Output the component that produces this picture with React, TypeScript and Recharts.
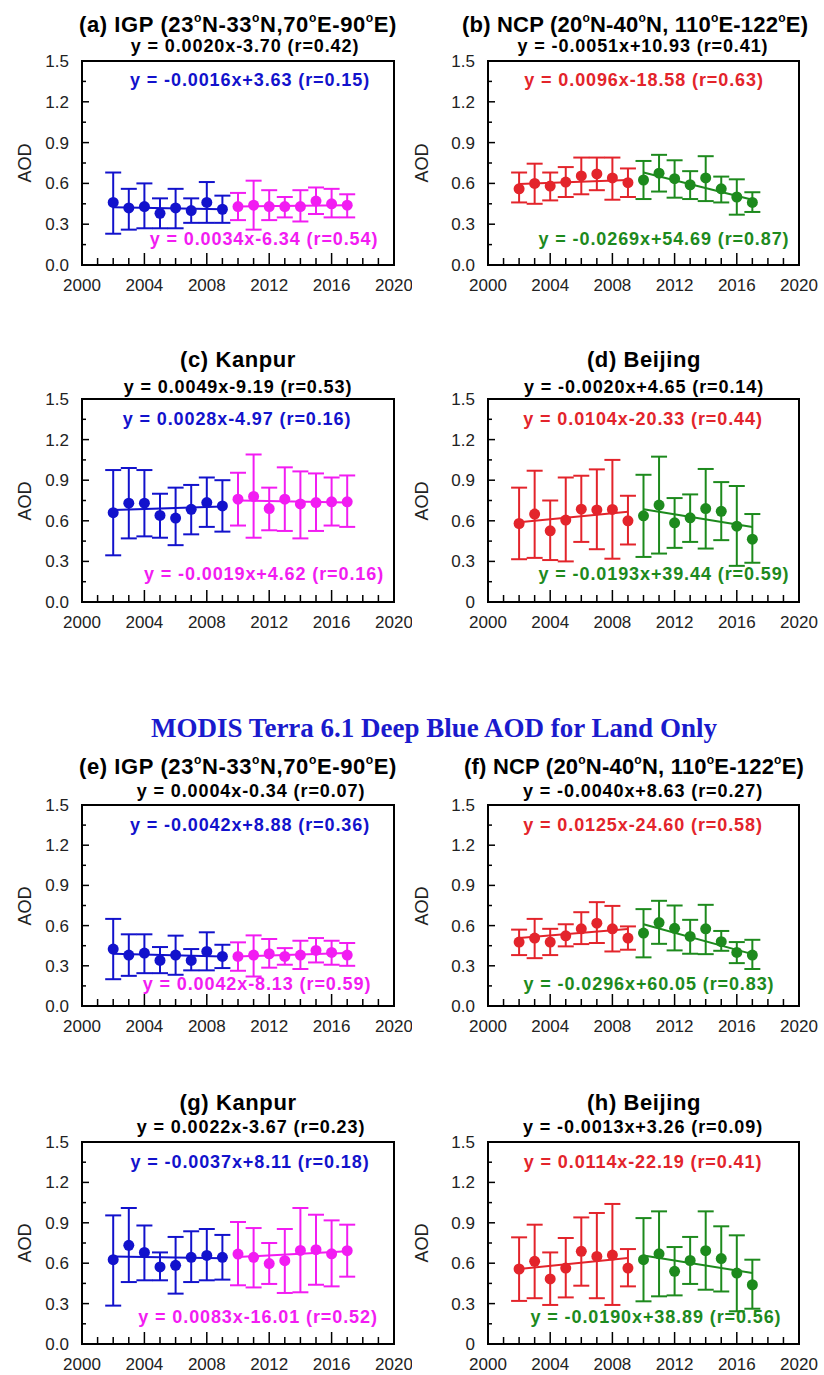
import React from 'react';
import { ComposedChart, Line, XAxis, YAxis, ErrorBar, ReferenceArea } from 'recharts';

const YEARS = [2002, 2003, 2004, 2005, 2006, 2007, 2008, 2009, 2010, 2011, 2012, 2013, 2014, 2015, 2016, 2017];
const X_TICKS = [2000, 2001, 2002, 2003, 2004, 2005, 2006, 2007, 2008, 2009, 2010, 2011, 2012, 2013, 2014, 2015, 2016, 2017, 2018, 2019, 2020];
const Y_TICKS = [0, 0.15, 0.3, 0.45, 0.6, 0.75, 0.9, 1.05, 1.2, 1.35, 1.5];

// first 8 values = 2002-2009, last 8 = 2010-2017
const aMean = [0.46, 0.42, 0.43, 0.38, 0.42, 0.4, 0.46, 0.41, 0.43, 0.44, 0.43, 0.43, 0.43, 0.47, 0.45, 0.44];
const aTop = [0.68, 0.56, 0.6, 0.49, 0.56, 0.49, 0.61, 0.51, 0.53, 0.62, 0.55, 0.5, 0.55, 0.57, 0.56, 0.52];
const aBot = [0.23, 0.26, 0.27, 0.27, 0.27, 0.31, 0.31, 0.31, 0.33, 0.26, 0.33, 0.35, 0.32, 0.375, 0.35, 0.35];
const aTrend = [0.425, 0.41, 0.43, 0.44];

const bMean = [0.56, 0.6, 0.58, 0.61, 0.655, 0.67, 0.64, 0.605, 0.625, 0.675, 0.635, 0.59, 0.64, 0.56, 0.5, 0.46];
const bTop = [0.68, 0.745, 0.68, 0.72, 0.79, 0.79, 0.79, 0.71, 0.765, 0.81, 0.77, 0.69, 0.8, 0.65, 0.63, 0.535];
const bBot = [0.46, 0.45, 0.475, 0.5, 0.52, 0.55, 0.48, 0.5, 0.485, 0.54, 0.495, 0.485, 0.47, 0.46, 0.37, 0.39];
const bTrend = [0.595, 0.625, 0.68, 0.48];

const cMean = [0.66, 0.73, 0.73, 0.64, 0.62, 0.685, 0.735, 0.71, 0.76, 0.78, 0.69, 0.76, 0.725, 0.735, 0.74, 0.74];
const cTop = [0.975, 0.99, 0.975, 0.8, 0.845, 0.865, 0.92, 0.9, 0.955, 1.09, 0.845, 0.995, 0.965, 0.95, 0.92, 0.935];
const cBot = [0.345, 0.47, 0.485, 0.475, 0.42, 0.5, 0.555, 0.52, 0.565, 0.475, 0.53, 0.525, 0.47, 0.525, 0.565, 0.555];
const cTrend = [0.68, 0.705, 0.75, 0.735];

const dMean = [0.58, 0.65, 0.526, 0.605, 0.686, 0.68, 0.684, 0.6, 0.637, 0.716, 0.585, 0.622, 0.69, 0.67, 0.56, 0.464];
const dTop = [0.845, 0.97, 0.75, 0.92, 0.933, 0.98, 1.05, 0.785, 0.94, 1.074, 0.768, 0.795, 0.983, 0.886, 0.857, 0.65];
const dBot = [0.316, 0.326, 0.31, 0.3, 0.444, 0.39, 0.32, 0.425, 0.333, 0.358, 0.4, 0.444, 0.395, 0.457, 0.267, 0.29];
const dTrend = [0.59, 0.667, 0.686, 0.555];

const eMean = [0.425, 0.38, 0.395, 0.34, 0.38, 0.34, 0.407, 0.37, 0.37, 0.38, 0.39, 0.37, 0.38, 0.415, 0.4, 0.38];
const eTop = [0.65, 0.535, 0.535, 0.44, 0.525, 0.425, 0.55, 0.457, 0.475, 0.527, 0.5, 0.432, 0.487, 0.507, 0.487, 0.47];
const eBot = [0.2, 0.225, 0.245, 0.245, 0.233, 0.266, 0.266, 0.283, 0.263, 0.22, 0.286, 0.308, 0.276, 0.325, 0.308, 0.3];
const eTrend = [0.39, 0.37, 0.37, 0.395];

const fMean = [0.477, 0.507, 0.477, 0.524, 0.576, 0.618, 0.576, 0.507, 0.544, 0.623, 0.58, 0.519, 0.576, 0.48, 0.4, 0.38];
const fTop = [0.57, 0.65, 0.576, 0.61, 0.7, 0.775, 0.747, 0.594, 0.723, 0.785, 0.75, 0.643, 0.755, 0.56, 0.477, 0.494];
const fBot = [0.38, 0.357, 0.38, 0.445, 0.462, 0.47, 0.407, 0.42, 0.363, 0.464, 0.415, 0.39, 0.387, 0.412, 0.32, 0.276];
const fTrend = [0.507, 0.574, 0.61, 0.387];

const gMean = [0.626, 0.733, 0.68, 0.572, 0.584, 0.644, 0.658, 0.644, 0.668, 0.644, 0.597, 0.619, 0.695, 0.7, 0.67, 0.693];
const gTop = [0.955, 1.01, 0.88, 0.68, 0.795, 0.837, 0.854, 0.81, 0.906, 0.861, 0.75, 0.854, 1.01, 0.96, 0.918, 0.886];
const gBot = [0.285, 0.46, 0.473, 0.473, 0.374, 0.46, 0.473, 0.478, 0.436, 0.42, 0.446, 0.379, 0.384, 0.44, 0.428, 0.5];
const gTrend = [0.65, 0.636, 0.646, 0.688];

const hMean = [0.557, 0.614, 0.483, 0.564, 0.688, 0.65, 0.66, 0.564, 0.626, 0.67, 0.54, 0.62, 0.693, 0.634, 0.527, 0.44];
const hTop = [0.792, 0.886, 0.68, 0.787, 0.94, 0.973, 1.04, 0.705, 0.935, 0.985, 0.72, 0.795, 0.985, 0.874, 0.807, 0.626];
const hBot = [0.32, 0.34, 0.29, 0.346, 0.433, 0.34, 0.29, 0.428, 0.317, 0.354, 0.361, 0.446, 0.403, 0.39, 0.243, 0.262];
const hTrend = [0.557, 0.639, 0.658, 0.527];

const BLUE = '#1212cc';
const MAGENTA = '#f21cf2';
const RED = '#e3242b';
const GREEN = '#1d8a1d';
const SANS = '"Liberation Sans", Arial, sans-serif';

// layout of the 8 boxes
const COLS = [
  { chartLeft: 0, boxLeft: 82, boxRight: 394 },
  { chartLeft: 412, boxLeft: 488, boxRight: 799 },
];
const ROWS = [
  { top: 61, bottom: 265 },
  { top: 399, bottom: 602 },
  { top: 805, bottom: 1006 },
  { top: 1142, bottom: 1344 },
];

const panels = [
  { col: 0, row: 0, mean: aMean, top: aTop, bot: aBot, trend: aTrend, c1: BLUE, c2: MAGENTA, zero: '0.0',
    title: '(a) IGP (23°N-33°N,70°E-90°E)', titleX: 238, titleLeft: false,
    eq: 'y = 0.0020x-3.70 (r=0.42)', eqX: 245, eq1: 'y = -0.0016x+3.63 (r=0.15)', eq1X: 250, eq2: 'y = 0.0034x-6.34 (r=0.54)', eq2X: 264 },
  { col: 1, row: 0, mean: bMean, top: bTop, bot: bBot, trend: bTrend, c1: RED, c2: GREEN, zero: '0.0',
    title: '(b) NCP (20°N-40°N, 110°E-122°E)', titleX: 462, titleLeft: true,
    eq: 'y = -0.0051x+10.93 (r=0.41)', eqX: 643, eq1: 'y = 0.0096x-18.58 (r=0.63)', eq1X: 644, eq2: 'y = -0.0269x+54.69 (r=0.87)', eq2X: 664 },
  { col: 0, row: 1, mean: cMean, top: cTop, bot: cBot, trend: cTrend, c1: BLUE, c2: MAGENTA, zero: '0.0',
    title: '(c) Kanpur', titleX: 238, titleLeft: false,
    eq: 'y = 0.0049x-9.19 (r=0.53)', eqX: 238, eq1: 'y = 0.0028x-4.97 (r=0.16)', eq1X: 237, eq2: 'y = -0.0019x+4.62 (r=0.16)', eq2X: 264 },
  { col: 1, row: 1, mean: dMean, top: dTop, bot: dBot, trend: dTrend, c1: RED, c2: GREEN, zero: '0',
    title: '(d) Beijing', titleX: 644, titleLeft: false,
    eq: 'y = -0.0020x+4.65 (r=0.14)', eqX: 644, eq1: 'y = 0.0104x-20.33 (r=0.44)', eq1X: 643, eq2: 'y = -0.0193x+39.44 (r=0.59)', eq2X: 664 },
  { col: 0, row: 2, mean: eMean, top: eTop, bot: eBot, trend: eTrend, c1: BLUE, c2: MAGENTA, zero: '0.0',
    title: '(e) IGP (23°N-33°N,70°E-90°E)', titleX: 238, titleLeft: false,
    eq: 'y = 0.0004x-0.34 (r=0.07)', eqX: 251, eq1: 'y = -0.0042x+8.88 (r=0.36)', eq1X: 250, eq2: 'y = 0.0042x-8.13 (r=0.59)', eq2X: 257 },
  { col: 1, row: 2, mean: fMean, top: fTop, bot: fBot, trend: fTrend, c1: RED, c2: GREEN, zero: '0.0',
    title: '(f) NCP (20°N-40°N, 110°E-122°E)', titleX: 464, titleLeft: true,
    eq: 'y = -0.0040x+8.63 (r=0.27)', eqX: 643, eq1: 'y = 0.0125x-24.60 (r=0.58)', eq1X: 643, eq2: 'y = -0.0296x+60.05 (r=0.83)', eq2X: 649 },
  { col: 0, row: 3, mean: gMean, top: gTop, bot: gBot, trend: gTrend, c1: BLUE, c2: MAGENTA, zero: '0.0',
    title: '(g) Kanpur', titleX: 238, titleLeft: false,
    eq: 'y = 0.0022x-3.67 (r=0.23)', eqX: 251, eq1: 'y = -0.0037x+8.11 (r=0.18)', eq1X: 250, eq2: 'y = 0.0083x-16.01 (r=0.52)', eq2X: 258 },
  { col: 1, row: 3, mean: hMean, top: hTop, bot: hBot, trend: hTrend, c1: RED, c2: GREEN, zero: '0',
    title: '(h) Beijing', titleX: 644, titleLeft: false,
    eq: 'y = -0.0013x+3.26 (r=0.09)', eqX: 643, eq1: 'y = 0.0114x-22.19 (r=0.41)', eq1X: 643, eq2: 'y = -0.0190x+38.89 (r=0.56)', eq2X: 656 },
];

// text offsets relative to box top / bottom
const TITLE_DY = [-36, -39, -38, -39];
const EQ_DY = [-14, -11, -13, -14];
const EQ1_DY = [20, 21, 21, 21];
const EQ2_DY = [-25, -27, -21, -26];

const T = ({ x, y, size = 18, color = '#000', bold = true, left = false, ls = 0, font = SANS, children }: any) => {
  const style: any = {
    position: 'absolute', top: y - size * 0.59, fontSize: size, lineHeight: `${size * 1.2}px`,
    color, fontWeight: bold ? 700 : 400, fontFamily: font, whiteSpace: 'nowrap', letterSpacing: ls,
  };
  if (left) style.left = x;
  else { style.left = x - 300; style.width = 600; style.textAlign = 'center'; }
  return <div style={style}>{children}</div>;
};

const withDegrees = (s: string) =>
  s.split('°').map((part, i) => (
    <React.Fragment key={i}>
      {i > 0 && <span style={{ fontSize: '0.55em', position: 'relative', top: '-0.8em' }}>o</span>}
      {part}
    </React.Fragment>
  ));

const XTick = (p: any) => {
  const v = p.payload.value;
  const major = v % 4 === 0;
  return (
    <g>
      <line x1={p.x} x2={p.x} y1={p.y} y2={p.y - (major ? 12 : 7)} stroke="#000" strokeWidth={1.5} />
      {major && (
        <text x={p.x} y={p.y + 26} textAnchor="middle" fontSize={17} fontFamily={SANS} fill="#222">{v}</text>
      )}
    </g>
  );
};

const makeYTick = (zero: string) => (p: any) => {
  const v = p.payload.value;
  const major = Math.round(v * 100) % 30 === 0;
  return (
    <g>
      <line x1={p.x} x2={p.x + (major ? 7 : 4)} y1={p.y} y2={p.y} stroke="#000" strokeWidth={1.5} />
      {major && (
        <text x={p.x - 13} y={p.y + 6} textAnchor="end" fontSize={17} fontFamily={SANS} fill="#222">
          {v === 0 ? zero : v.toFixed(1)}
        </text>
      )}
    </g>
  );
};

const Panel = ({ p }: any) => {
  const col = COLS[p.col];
  const row = ROWS[p.row];
  const boxH = row.bottom - row.top;
  const yAxisW = 40;
  const s1 = YEARS.slice(0, 8).map((year, i) => ({
    year, v: p.mean[i], err: [p.mean[i] - p.bot[i], p.top[i] - p.mean[i]],
  }));
  const s2 = YEARS.slice(8).map((year, i) => ({
    year, v: p.mean[i + 8], err: [p.mean[i + 8] - p.bot[i + 8], p.top[i + 8] - p.mean[i + 8]],
  }));
  const t1 = [{ year: YEARS[0], t: p.trend[0] }, { year: YEARS[7], t: p.trend[1] }];
  const t2 = [{ year: YEARS[8], t: p.trend[2] }, { year: YEARS[15], t: p.trend[3] }];

  return (
    <div style={{ position: 'absolute', left: col.chartLeft, top: row.top - 10 }}>
      <ComposedChart
        width={412}
        height={boxH + 50}
        margin={{ top: 10, right: 412 - (col.boxRight - col.chartLeft), bottom: 10, left: col.boxLeft - col.chartLeft - yAxisW }}
      >
        <XAxis type="number" dataKey="year" domain={[2000, 2020]} ticks={X_TICKS} interval={0}
          tickSize={0} tickMargin={0} axisLine={false} tickLine={false} tick={XTick} height={30} />
        <YAxis type="number" domain={[0, 1.5]} ticks={Y_TICKS} interval={0} width={yAxisW}
          tickSize={0} tickMargin={0} axisLine={false} tickLine={false} tick={makeYTick(p.zero)} />
        <ReferenceArea x1={2000} x2={2020} y1={0} y2={1.5} fill="none" stroke="#000" strokeWidth={2} ifOverflow="visible" />
        <Line data={t1} dataKey="t" stroke={p.c1} strokeWidth={2} dot={false} activeDot={false} isAnimationActive={false} />
        <Line data={t2} dataKey="t" stroke={p.c2} strokeWidth={2} dot={false} activeDot={false} isAnimationActive={false} />
        <Line data={s1} dataKey="v" stroke="none" strokeWidth={0} dot={{ r: 5.5, fill: p.c1, stroke: 'none' }}
          activeDot={false} isAnimationActive={false}>
          <ErrorBar dataKey="err" width={8} strokeWidth={2} stroke={p.c1} direction="y" isAnimationActive={false} />
        </Line>
        <Line data={s2} dataKey="v" stroke="none" strokeWidth={0} dot={{ r: 5.5, fill: p.c2, stroke: 'none' }}
          activeDot={false} isAnimationActive={false}>
          <ErrorBar dataKey="err" width={8} strokeWidth={2} stroke={p.c2} direction="y" isAnimationActive={false} />
        </Line>
      </ComposedChart>
    </div>
  );
};

const App = () => (
  <div style={{ position: 'absolute', left: 0, top: 0, width: 824, height: 1375, overflow: 'hidden', background: '#fff' }}>
    <T x={434} y={728} size={27} color="#1a1acd" font='"Liberation Serif", "Times New Roman", serif'>
      MODIS Terra 6.1 Deep Blue AOD for Land Only
    </T>
    {panels.map((p, i) => {
      const row = ROWS[p.row];
      const col = COLS[p.col];
      return (
        <React.Fragment key={i}>
          <T x={p.titleX} y={row.top + TITLE_DY[p.row]} size={22} ls={p.titleLeft ? 0.2 : 0.6} left={p.titleLeft}>{withDegrees(p.title)}</T>
          <T x={p.eqX} y={row.top + EQ_DY[p.row]} size={18} ls={0.9}>{p.eq}</T>
          <T x={p.eq1X} y={row.top + EQ1_DY[p.row]} size={18} ls={0.9} color={p.c1}>{p.eq1}</T>
          <T x={p.eq2X} y={row.bottom + EQ2_DY[p.row]} size={18} ls={0.9} color={p.c2}>{p.eq2}</T>
          <div style={{
            position: 'absolute', left: col.chartLeft + (p.col === 0 ? 25 : 10) - 30, top: (row.top + row.bottom) / 2 - 11,
            width: 60, height: 22, lineHeight: '22px', textAlign: 'center', fontSize: 18, fontFamily: SANS,
            color: '#222', transform: 'rotate(-90deg)',
          }}>AOD</div>
          <Panel p={p} />
        </React.Fragment>
      );
    })}
  </div>
);

export default App;
